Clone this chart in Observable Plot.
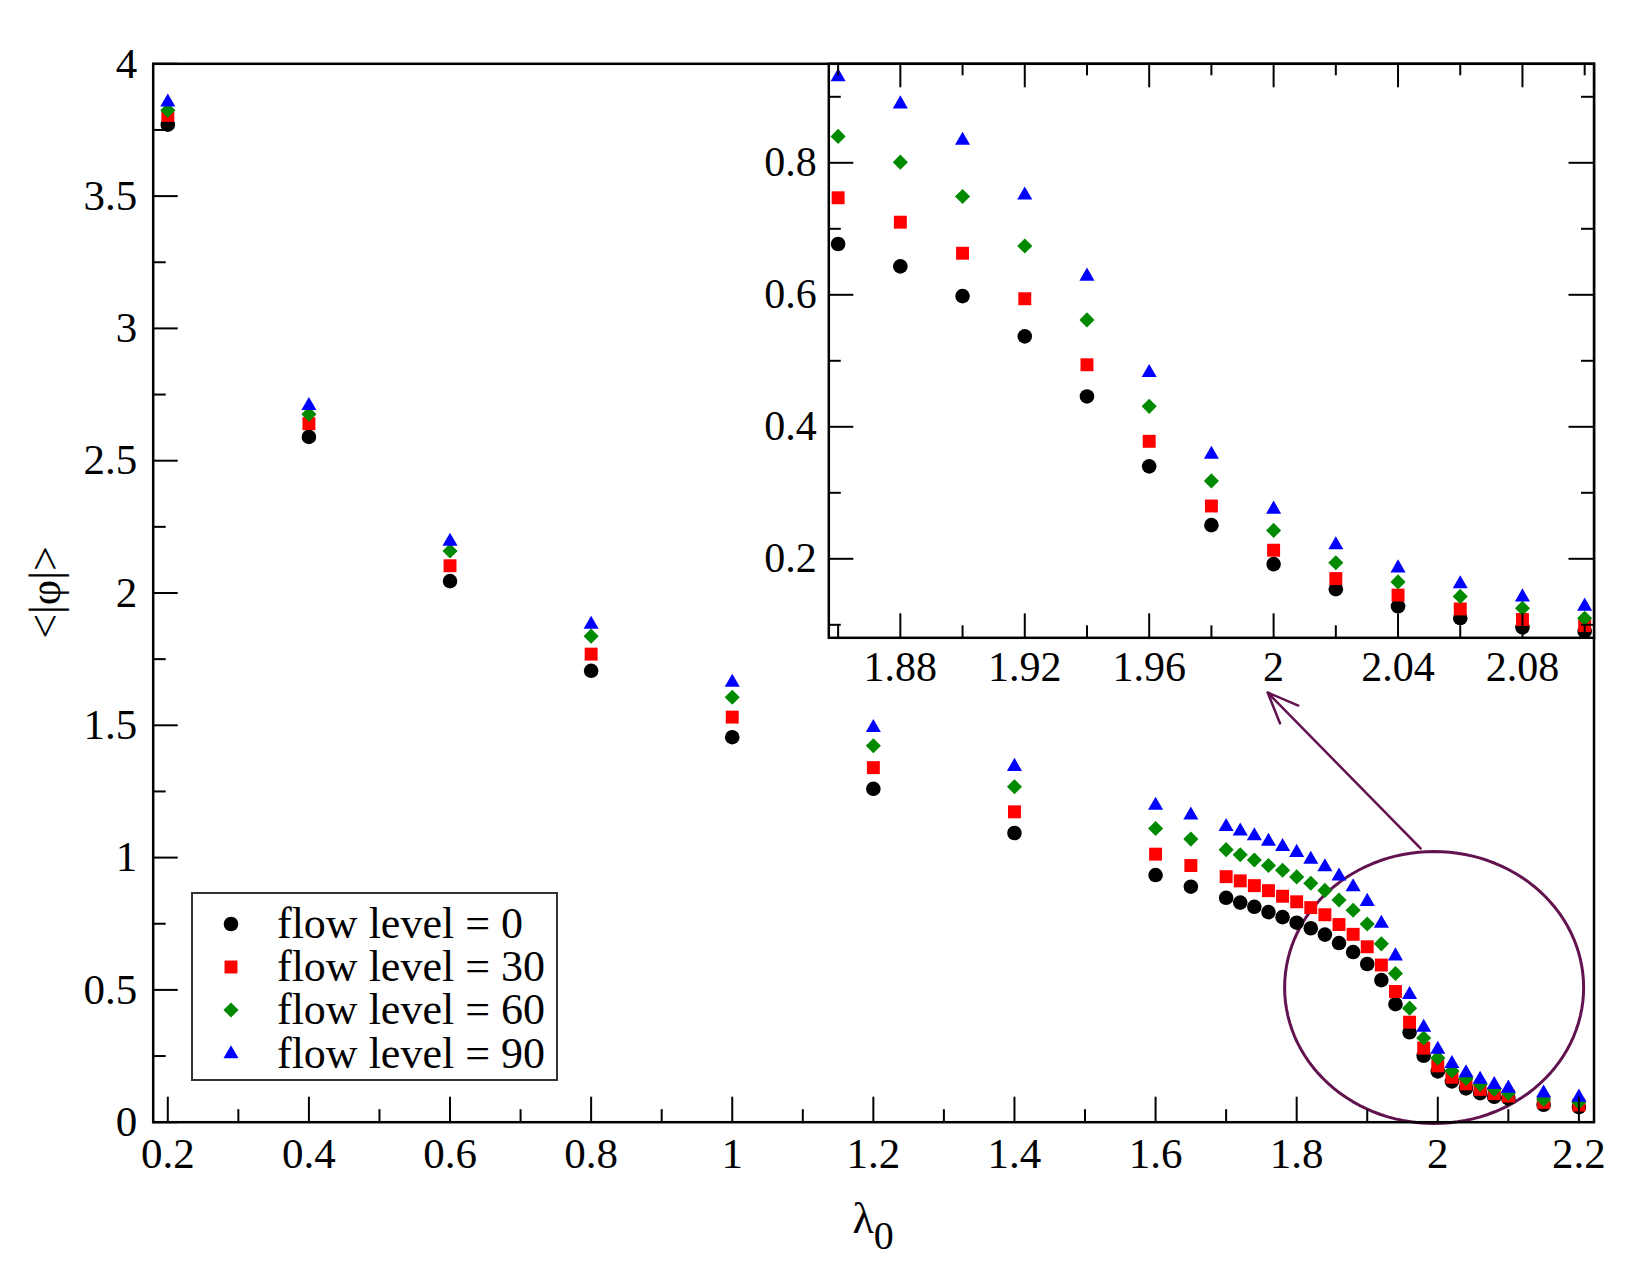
<!DOCTYPE html>
<html><head><meta charset="utf-8">
<script src="https://cdn.jsdelivr.net/npm/d3@7"></script>
<script src="https://cdn.jsdelivr.net/npm/@observablehq/plot@0.6"></script>
<style>
html,body{margin:0;padding:0;background:#fff;}
#wrap{position:relative;width:1650px;height:1275px;font-family:'Liberation Serif','Times New Roman',Times,serif;}
#wrap > svg{position:absolute;left:0;top:0;}
#legend{position:absolute;box-sizing:border-box;border:2px solid #333;background:#fff;}
#legend .row{position:absolute;left:0;height:40px;line-height:40px;font-size:44px;white-space:nowrap;color:#000;}
#legend .row svg{position:absolute;top:10px;}
#legend .row span{position:absolute;top:0;}
</style></head><body><div id="wrap"></div>
<script>
// ---- data ----
const lambda = [0.2,0.4,0.6,0.8,1.0,1.2,1.4,1.6,1.65,1.70,1.72,1.74,1.76,1.78,1.80,1.82,1.84,1.86,1.88,1.90,1.92,1.94,1.96,1.98,2.00,2.02,2.04,2.06,2.08,2.10,2.15,2.20];
const flow0  = [3.77,2.59,2.045,1.706,1.455,1.260,1.093,0.934,0.89,0.848,0.83,0.814,0.794,0.775,0.754,0.733,0.709,0.677,0.643,0.598,0.537,0.446,0.340,0.251,0.192,0.154,0.128,0.110,0.096,0.090,0.066,0.057];
const flow30 = [3.805,2.64,2.103,1.769,1.531,1.340,1.173,1.013,0.97,0.928,0.912,0.894,0.875,0.854,0.833,0.811,0.784,0.747,0.710,0.663,0.594,0.494,0.378,0.280,0.213,0.170,0.145,0.124,0.108,0.099,0.075,0.065];
const flow60 = [3.824,2.676,2.159,1.837,1.606,1.423,1.268,1.11,1.07,1.03,1.011,0.991,0.97,0.952,0.927,0.903,0.876,0.840,0.801,0.749,0.674,0.562,0.431,0.318,0.243,0.194,0.165,0.143,0.125,0.110,0.086,0.076];
const flow90 = [3.855,2.708,2.195,1.881,1.662,1.491,1.344,1.197,1.16,1.117,1.10,1.082,1.061,1.041,1.019,0.993,0.965,0.930,0.889,0.834,0.751,0.628,0.482,0.358,0.275,0.221,0.186,0.162,0.142,0.128,0.11,0.094];
const levels = ["flow level = 0","flow level = 30","flow level = 60","flow level = 90"];

const xMajor = [0.2,0.4,0.6,0.8,1.0,1.2,1.4,1.6,1.8,2.0,2.2];
const xMinor = [0.3,0.5,0.7,0.9,1.1,1.3,1.5,1.7,1.9,2.1];
const yMajor = [0,0.5,1,1.5,2,2.5,3,3.5,4];
const yMinor = [0.25,0.75,1.25,1.75,2.25,2.75,3.25,3.75];
const insetXMajor = [1.88,1.92,1.96,2.00,2.04,2.08];
const insetXMinor = [1.86,1.90,1.94,1.98,2.02,2.06,2.10];
const insetYMajor = [0.2,0.4,0.6,0.8];
const insetYMinor = [0.1,0.3,0.5,0.7,0.9];

const xTitle = "λ", xTitleSub = "0";
const yTitle = "<|φ|>";

// annotation (zoom circle + pointer), in data units of the main chart
const zoomEllipse = {cx: 1.9948, cy: 0.509, rx: 0.2119, ry: 0.514};
const pointer = [{x1: 1.9756, y1: 1.0344, x2: 1.7588, y2: 1.624}];

// ---- layout ----
const W = 1650, H = 1275;
const FONT = "'Liberation Serif','Times New Roman',Times,serif";
const PURPLE = "#62124f";
const main = {left:152.7, top:63.3, right:1593.5, bottom:1121.7};
const ins = {left:828.3, top:63.3, right:1593.5, bottom:637.3};
const MW = main.right - main.left, MH = main.bottom - main.top;
const IW = ins.right - ins.left, IH = ins.bottom - ins.top;
const mainX = [0.1793, 2.2214], mainY = [0, 4];
const insetX = [1.857, 2.103], insetY = [0.0803, 0.95];

const fmt = d => String(+d.toFixed(2));

const series = [
  {name: levels[0], values: flow0,  symbol: "circle",   type: d3.symbolCircle,   color: "#000000", r: 7.3},
  {name: levels[1], values: flow30, symbol: "square",   type: d3.symbolSquare,   color: "#ff0000", r: 7.3},
  {name: levels[2], values: flow60, symbol: "diamond2", type: d3.symbolDiamond2, color: "#008a00", r: 6.8},
  {name: levels[3], values: flow90, symbol: "triangle", type: d3.symbolTriangle, color: "#0000ff", r: 5.6}
];
const rowsOf = s => lambda.map((x, i) => ({x, y: s.values[i]}));
const dotMarks = keep => series.map(s =>
  Plot.dot(rowsOf(s).filter(keep), {x: "x", y: "y", symbol: s.symbol, r: s.r, fill: s.color, stroke: "none"}));

const ellipsePts = d3.range(0, 360, 3).map(a => ({
  x: zoomEllipse.cx + zoomEllipse.rx * Math.cos(a * Math.PI / 180),
  y: zoomEllipse.cy + zoomEllipse.ry * Math.sin(a * Math.PI / 180)
}));

const style = {fontFamily: FONT, fontSize: "43px", background: "transparent", color: "black", overflow: "visible"};

const mainPlot = Plot.plot({
  width: W, height: H,
  marginLeft: main.left, marginTop: main.top, marginRight: W - main.right, marginBottom: H - main.bottom,
  x: {domain: mainX, label: null},
  y: {domain: mainY, label: null},
  style,
  marks: [
    Plot.line(ellipsePts, {x: "x", y: "y", curve: "linear-closed", stroke: PURPLE, strokeWidth: 3}),
    Plot.arrow(pointer, {x1: "x1", y1: "y1", x2: "x2", y2: "y2", stroke: PURPLE, strokeWidth: 2.5, headLength: 20, headAngle: 45}),
    ...dotMarks(() => true),
    Plot.ruleX(xMajor, {insetTop: MH - 25, stroke: "black", strokeWidth: 2}),
    Plot.ruleX(xMinor, {insetTop: MH - 12.5, stroke: "black", strokeWidth: 2}),
    Plot.ruleY(yMajor, {insetRight: MW - 25, stroke: "black", strokeWidth: 2}),
    Plot.ruleY(yMinor, {insetRight: MW - 13, stroke: "black", strokeWidth: 2}),
    Plot.axisX({ticks: xMajor, tickSize: 0, tickPadding: 15, tickFormat: fmt, label: null, fontSize: 43}),
    Plot.axisY({ticks: yMajor, tickSize: 0, tickPadding: 16, tickFormat: fmt, label: null, fontSize: 43}),
    Plot.frame({stroke: "black", strokeWidth: 2.5})
  ]
});

const insetPlot = Plot.plot({
  width: W, height: H,
  marginLeft: ins.left, marginTop: ins.top, marginRight: W - ins.right, marginBottom: H - ins.bottom,
  x: {domain: insetX, label: null},
  y: {domain: insetY, label: null},
  style: {...style, fontSize: "42px"},
  marks: [
    Plot.frame({fill: "white", stroke: "none"}),
    ...dotMarks(d => d.x >= insetX[0] && d.x <= insetX[1]),
    Plot.ruleX(insetXMajor, {insetTop: IH - 24, stroke: "black", strokeWidth: 2}),
    Plot.ruleX(insetXMinor, {insetTop: IH - 12, stroke: "black", strokeWidth: 2}),
    Plot.ruleX(insetXMajor, {insetBottom: IH - 24, stroke: "black", strokeWidth: 2}),
    Plot.ruleX(insetXMinor, {insetBottom: IH - 12, stroke: "black", strokeWidth: 2}),
    Plot.ruleY(insetYMajor, {insetRight: IW - 25, stroke: "black", strokeWidth: 2}),
    Plot.ruleY(insetYMinor, {insetRight: IW - 12.5, stroke: "black", strokeWidth: 2}),
    Plot.ruleY(insetYMajor, {insetLeft: IW - 25, stroke: "black", strokeWidth: 2}),
    Plot.ruleY(insetYMinor, {insetLeft: IW - 12.5, stroke: "black", strokeWidth: 2}),
    Plot.axisX({ticks: insetXMajor, tickSize: 0, tickPadding: 13.5, tickFormat: fmt, label: null, fontSize: 42}),
    Plot.axisY({ticks: insetYMajor, tickSize: 0, tickPadding: 12, tickFormat: fmt, label: null, fontSize: 42}),
    Plot.frame({stroke: "black", strokeWidth: 2.5})
  ]
});

// axis titles
const msvg = d3.select(mainPlot);
const xt = msvg.append("text")
  .attr("x", (main.left + main.right) / 2).attr("y", 1233)
  .attr("text-anchor", "middle").attr("fill", "black")
  .style("font-family", FONT).style("font-size", "44px");
xt.append("tspan").text(xTitle);
xt.append("tspan").attr("dy", 16).style("font-size", "40px").text(xTitleSub);
msvg.append("text")
  .attr("transform", `translate(60,${(main.top + main.bottom) / 2}) rotate(-90)`)
  .attr("text-anchor", "middle").attr("fill", "black")
  .style("font-family", FONT).style("font-size", "44px")
  .text(yTitle);

const wrap = document.getElementById("wrap");
wrap.appendChild(mainPlot);
wrap.appendChild(insetPlot);

// legend
const legend = document.createElement("div");
legend.id = "legend";
Object.assign(legend.style, {left: "190.7px", top: "892.3px", width: "367px", height: "188.4px"});
const rowCenters = [30, 72.7, 115.4, 159.4];
series.forEach((s, i) => {
  const row = document.createElement("div");
  row.className = "row";
  row.style.top = (rowCenters[i] - 20) + "px";
  row.style.width = "360px";
  const sv = d3.create("svg").attr("width", 20).attr("height", 20).style("left", "28.6px");
  sv.append("path")
    .attr("transform", "translate(10,10)")
    .attr("d", d3.symbol().type(s.type).size(Math.PI * s.r * s.r)())
    .attr("fill", s.color);
  row.appendChild(sv.node());
  const sp = document.createElement("span");
  sp.style.left = "84.3px";
  sp.textContent = s.name;
  row.appendChild(sp);
  legend.appendChild(row);
});
wrap.appendChild(legend);
</script>
</body></html>
